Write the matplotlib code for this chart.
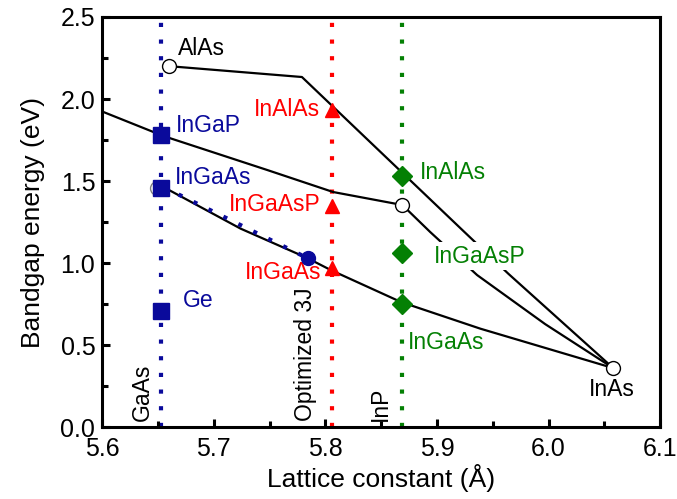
import matplotlib
matplotlib.use("Agg")
from matplotlib import pyplot as plt
from matplotlib.ticker import MultipleLocator

plt.rcParams['font.family'] = ['Liberation Sans', 'DejaVu Sans']

# lattice constants of the reference substrates / target
a_gaas = 5.653
a_3j = 5.806
a_inp = 5.869

# black curves (lattice constant, bandgap)
alas_x = [5.660, 5.779, 5.923, 5.964, 6.058]
alas_y = [2.20, 2.134, 1.200, 0.935, 0.36]
gap2_x = [5.601, 5.655, 5.748, 5.807, 5.869]
gap2_y = [1.921, 1.774, 1.567, 1.433, 1.354]
inp_x = [5.869, 5.894, 5.936, 5.997, 6.058]
inp_y = [1.354, 1.189, 0.927, 0.628, 0.36]
ingaas_x = [5.655, 5.724, 5.784, 5.805, 5.868, 5.939, 6.058]
ingaas_y = [1.463, 1.210, 1.030, 0.957, 0.762, 0.600, 0.36]

# binary compounds (open circles)
bin_x = [5.660, 5.869, 6.058]
bin_y = [2.20, 1.354, 0.36]

# GaAs-matched cells (blue)
blue_y = [1.78, 1.46, 0.71]
blue_line_x = [5.655, 5.784]
blue_line_y = [1.463, 1.030]

# optimized 3J cells (red)
red_y = [1.93, 1.35, 0.97]
# InP-matched cells (green)
green_y = [1.53, 1.06, 0.75]

blue = '#0a0a9b'
red = '#ff0000'
green = '#048004'

fig = plt.figure(figsize=(6.77, 4.99), dpi=100)
ax = fig.add_axes([0.151, 0.144, 0.824, 0.822])

for xv, c in [(a_gaas, blue), (a_3j, red), (a_inp, green)]:
    ax.axvline(xv, color=c, lw=3, ls=(0, (1, 3)), zorder=1)

ax.plot(alas_x, alas_y, color='black', lw=1.6, zorder=2)
ax.plot(gap2_x, gap2_y, color='black', lw=1.6, zorder=2)
ax.plot(inp_x, inp_y, color='black', lw=1.6, zorder=2)
ax.plot(ingaas_x, ingaas_y, color='black', lw=1.6, zorder=2)
ax.plot(blue_line_x, blue_line_y, color=blue, lw=3, ls=(0, (1, 3)), zorder=2)

ax.plot([5.649], [1.46], 'o', ms=10, mfc='white', mec='gray', mew=1, zorder=3)
ax.plot(bin_x, bin_y, 'o', ms=10, mfc='white', mec='black', mew=1, zorder=4)
ax.plot([a_gaas] * 3, blue_y, 's', ms=11, color=blue, zorder=4)
ax.plot([blue_line_x[1]], [blue_line_y[1]], 'o', ms=10, color=blue, zorder=4)
ax.plot([a_3j] * 3, red_y, '^', ms=10, color=red, zorder=4)
ax.plot([a_inp] * 3, green_y, 'D', ms=10, color=green, zorder=4)

fs = 16.5
ax.text(5.668, 2.31, 'AlAs', color='black', fontsize=fs, va='center', ha='left')
ax.text(5.666, 1.84, 'InGaP', color=blue, fontsize=fs, va='center', ha='left')
ax.text(5.665, 1.52, 'InGaAs', color=blue, fontsize=fs, va='center', ha='left')
ax.text(5.672, 0.774, 'Ge', color=blue, fontsize=fs, va='center', ha='left')
ax.text(5.795, 1.933, 'InAlAs', color=red, fontsize=fs, va='center', ha='right')
ax.text(5.796, 1.354, 'InGaAsP', color=red, fontsize=fs, va='center', ha='right')
ax.text(5.796, 0.945, 'InGaAs', color=red, fontsize=fs, va='center', ha='right')
ax.text(5.885, 1.555, 'InAlAs', color=green, fontsize=fs, va='center', ha='left')
ax.text(5.897, 1.043, 'InGaAsP', color=green, fontsize=fs, va='center', ha='left',
        bbox=dict(facecolor='white', edgecolor='none', pad=2), zorder=3)
ax.text(5.874, 0.518, 'InGaAs', color=green, fontsize=fs, va='center', ha='left')
ax.text(6.057, 0.23, 'InAs', color='black', fontsize=fs, va='center', ha='center')

ax.text(5.636, 0.04, 'GaAs', fontsize=fs, rotation=90, ha='center', va='bottom')
ax.text(5.782, 0.04, 'Optimized 3J', fontsize=fs, rotation=90, ha='center', va='bottom')
ax.text(5.849, 0.04, 'InP', fontsize=fs, rotation=90, ha='center', va='bottom')

ax.set_xlim(5.6, 6.1)
ax.set_ylim(0, 2.5)
ax.xaxis.set_major_locator(MultipleLocator(0.1))
ax.xaxis.set_minor_locator(MultipleLocator(0.05))
ax.yaxis.set_major_locator(MultipleLocator(0.5))
ax.yaxis.set_minor_locator(MultipleLocator(0.25))
ax.xaxis.set_major_formatter(plt.FormatStrFormatter('%.1f'))
ax.yaxis.set_major_formatter(plt.FormatStrFormatter('%.1f'))
ax.tick_params(which='both', direction='in', width=2.2, labelsize=18, top=False, right=False)
ax.tick_params(axis='x', pad=7)
ax.tick_params(axis='y', pad=5)
ax.tick_params(which='major', length=6)
ax.tick_params(which='minor', length=4)
for s in ax.spines.values():
    s.set_linewidth(2.2)

ax.set_xlabel('Lattice constant (Å)', fontsize=19, labelpad=2)
ax.set_ylabel('Bandgap energy (eV)', fontsize=19, labelpad=11)

fig.savefig('out.png', dpi=100)
